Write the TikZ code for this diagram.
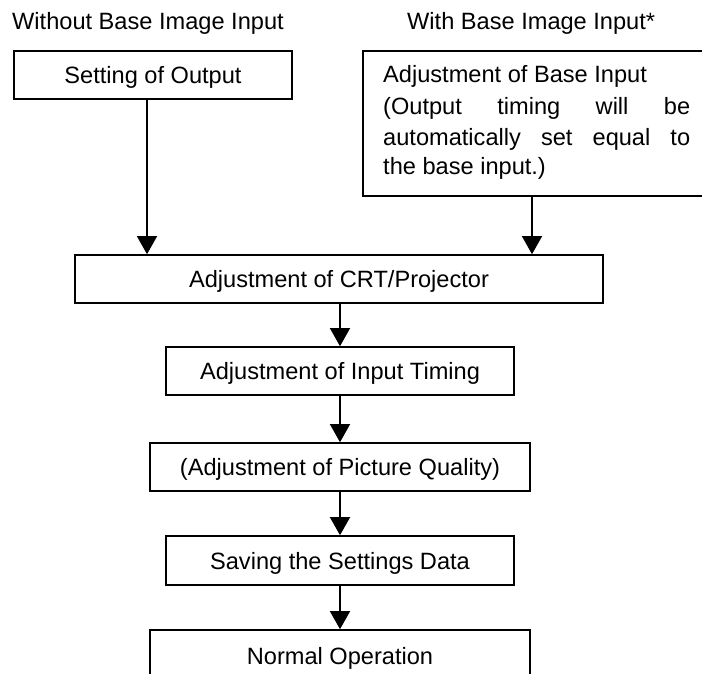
\documentclass[tikz,border=0pt]{standalone}
\usepackage{fontspec}
\setmainfont{Liberation Sans}
\usetikzlibrary{arrows.meta}
\begin{document}
\begin{tikzpicture}[x=1pt,y=-1pt,
  every node/.style={font=\fontsize{23.6}{31}\selectfont},
  stepbox/.style={draw, line width=1.6pt, inner sep=0pt, anchor=center,
    text height=17pt, text depth=0pt},
  label/.style={inner sep=0pt, anchor=base west},
  arr/.style={line width=1.4pt, -{Triangle[length=18pt,width=20pt]}}]
  \clip (0,0) rectangle (702,674);
  \fill[white] (0,0) rectangle (702,674);

  % column headings
  \node[label] (h1) at (12,30) {Without Base Image Input};
  \node[label] (h2) at (407,30) {With Base Image Input*};

  % the two starting steps
  \node[stepbox, minimum width=278pt, minimum height=48pt] (set) at (153,75) {Setting of Output};
  \node[stepbox, minimum width=349pt, minimum height=145pt] (base) at (537.5,123.5) {};
  \node[label] (b1) at (383,83) {Adjustment of Base Input};
  \node[label] (b2) at (383,115) {\makebox[307pt][s]{(Output timing will be}};
  \node[label] (b3) at (383,146) {\makebox[307pt][s]{automatically set equal to}};
  \node[label] (b4) at (383,175) {the base input.)};

  % main sequence
  \node[stepbox, minimum width=528pt, minimum height=48pt] (crt) at (339,279) {Adjustment of CRT/Projector};
  \node[stepbox, minimum width=348pt, minimum height=48pt] (it) at (340,371) {Adjustment of Input Timing};
  \node[stepbox, minimum width=380pt, minimum height=48pt] (pq) at (340,467) {(Adjustment of Picture Quality)};
  \node[stepbox, minimum width=348pt, minimum height=49pt] (sv) at (340,560.5) {Saving the Settings Data};
  \node[stepbox, minimum width=380pt, minimum height=51pt] (no) at (340,655.5) {Normal Operation};

  % connectors
  \draw[arr] ([xshift=-6pt]set.south) -- ([xshift=-6pt]set.south |- crt.north);
  \draw[arr] ([xshift=-5.5pt]base.south) -- ([xshift=-5.5pt]base.south |- crt.north);
  \draw[arr] (it.north |- crt.south) -- (it.north);
  \draw[arr] (it.south) -- (pq.north);
  \draw[arr] (pq.south) -- (sv.north);
  \draw[arr] (sv.south) -- (no.north);
\end{tikzpicture}
\end{document}
